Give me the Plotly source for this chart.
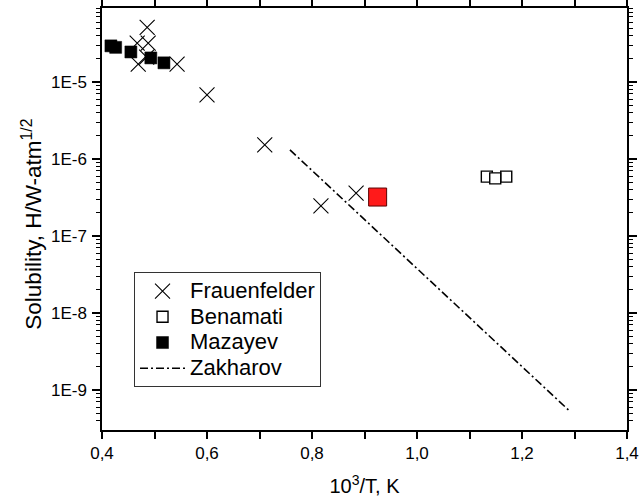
import plotly.graph_objects as go

# Hydrogen solubility data, x in 10^3/T (1/K), y in H/W-atm^1/2
frauenfelder_x = [0.486, 0.467, 0.488, 0.469, 0.543, 0.485, 0.600, 0.710, 0.817, 0.884]
frauenfelder_y = [5.1e-5, 3.2e-5, 3.2e-5, 1.7e-5, 1.7e-5, 2.1e-5, 6.8e-6, 1.52e-6, 2.45e-7, 3.6e-7]

benamati_x = [1.133, 1.170, 1.149]
benamati_y = [5.9e-7, 5.9e-7, 5.6e-7]

mazayev_x = [0.417, 0.426, 0.455, 0.493, 0.518]
mazayev_y = [2.94e-5, 2.81e-5, 2.45e-5, 2.05e-5, 1.77e-5]

zakharov_x = [0.758, 1.291]
zakharov_y = [1.31e-6, 5.3e-10]

present_x = [0.925]
present_y = [3.2e-7]

x_ticks = [0.4, 0.6, 0.8, 1.0, 1.2, 1.4]
x_labels = ["0,4", "0,6", "0,8", "1,0", "1,2", "1,4"]
y_ticks = [1e-9, 1e-8, 1e-7, 1e-6, 1e-5]
y_labels = ["1E-9", "1E-8", "1E-7", "1E-6", "1E-5"]

FONT = "Arial, Liberation Sans, sans-serif"


def legend_label(text):
    # larger glyphs inside a compact legend row
    return f'<span style="font-size:22px">{text}</span>'


fig = go.Figure()

fig.add_trace(go.Scatter(
    x=frauenfelder_x, y=frauenfelder_y, mode="markers",
    name=legend_label("Frauenfelder"),
    marker=dict(symbol="x-thin-open", size=15, color="black",
                line=dict(color="black", width=1.1)),
))
fig.add_trace(go.Scatter(
    x=benamati_x, y=benamati_y, mode="markers",
    name=legend_label("Benamati"),
    marker=dict(symbol="square", size=11, color="white",
                line=dict(color="black", width=1.4)),
))
fig.add_trace(go.Scatter(
    x=mazayev_x, y=mazayev_y, mode="markers",
    name=legend_label("Mazayev"),
    marker=dict(symbol="square", size=12, color="black",
                line=dict(color="black", width=0.5)),
))
fig.add_trace(go.Scatter(
    x=zakharov_x, y=zakharov_y, mode="lines",
    name=legend_label("Zakharov"),
    line=dict(color="black", width=1.6, dash="8px,3px,2px,3px"),
))
fig.add_trace(go.Scatter(
    x=present_x, y=present_y, mode="markers", showlegend=False,
    marker=dict(symbol="square", size=18, color="#ff1a1a",
                line=dict(color="#5a0000", width=1)),
))

axis_common = dict(
    showline=True, linecolor="black", linewidth=1.5, mirror="allticks",
    ticks="outside", tickcolor="black", tickwidth=1.5,
    showgrid=False, zeroline=False,
    tickfont=dict(family=FONT, size=17, color="black"),
)

fig.update_xaxes(
    range=[0.4, 1.4], tickmode="array", tickvals=x_ticks, ticktext=x_labels,
    ticklen=7,
    minor=dict(dtick=0.1, ticks="outside", ticklen=7, tickcolor="black",
               tickwidth=1.5, showgrid=False),
    title=dict(text="10<sup>3</sup>/T, K", font=dict(family=FONT, size=20, color="black"),
               standoff=17),
    **axis_common,
)
fig.update_yaxes(
    type="log", range=[-9.52, -4.04], tickmode="array", tickvals=y_ticks,
    ticktext=y_labels, ticklen=8, ticklabelstandoff=2,
    minor=dict(dtick="D1", ticks="outside", ticklen=4, tickcolor="black",
               tickwidth=1.2, showgrid=False),
    **axis_common,
)

# y-axis title as a rotated annotation
fig.add_annotation(
    text="Solubility, H/W-atm<sup>1/2</sup>", textangle=-90,
    xref="paper", yref="paper", x=-0.133, y=0.487,
    xanchor="center", yanchor="middle", showarrow=False,
    font=dict(family=FONT, size=22.5, color="black"),
)

fig.update_layout(
    width=639, height=502,
    margin=dict(l=102, r=12, t=8, b=72, autoexpand=False),
    paper_bgcolor="white", plot_bgcolor="white",
    legend=dict(
        x=0.061, y=0.374, xanchor="left", yanchor="top",
        bgcolor="white", bordercolor="#333333", borderwidth=1,
        font=dict(family=FONT, size=17.5, color="black"),
        itemwidth=45, tracegroupgap=0,
    ),
)

fig.write_html("out.html")
